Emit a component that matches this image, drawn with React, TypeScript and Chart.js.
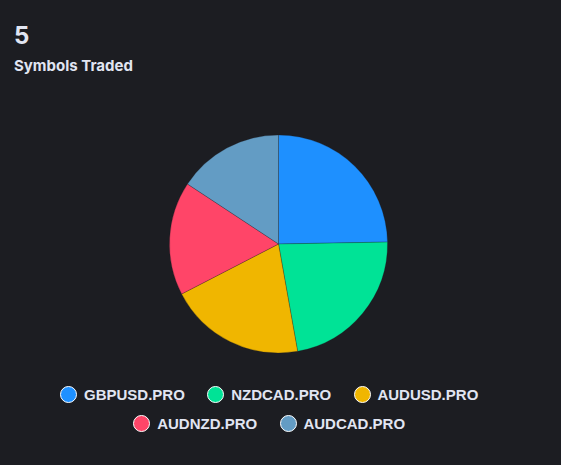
import { useEffect, useRef } from 'react'
import { Chart, ArcElement, Tooltip, PieController } from 'chart.js'

Chart.register(ArcElement, Tooltip, PieController)

// Symbols traded — pie by trade count, HTML legend underneath

const symbols = ['GBPUSD.PRO', 'NZDCAD.PRO', 'AUDUSD.PRO', 'AUDNZD.PRO', 'AUDCAD.PRO']
const tradeCounts = [22, 20, 18, 15, 14]
const sliceColors = ['#1e90ff', '#00e396', '#f0b600', '#ff4568', '#639cc4']

const BG = '#1c1d22'
const TEXT = '#e1e5f2'

export default function App() {
  const canvasRef = useRef<HTMLCanvasElement>(null)
  const chartRef = useRef<Chart | null>(null)

  useEffect(() => {
    document.body.style.margin = '0'
    document.body.style.background = BG
    if (!canvasRef.current) return
    if (chartRef.current) chartRef.current.destroy()

    chartRef.current = new Chart(canvasRef.current, {
      type: 'pie',
      data: {
        labels: symbols,
        datasets: [{
          data: tradeCounts,
          backgroundColor: sliceColors,
          borderWidth: 0.5,
          borderColor: 'rgba(28, 29, 34, 0.5)',
          hoverOffset: 0,
        }],
      },
      options: {
        responsive: true,
        maintainAspectRatio: false,
        animation: false,
        radius: 109,
        layout: { padding: 0 },
        plugins: {
          legend: { display: false },
          tooltip: {
            backgroundColor: '#2a2c33',
            titleColor: TEXT,
            bodyColor: TEXT,
          },
        },
      },
    })
    return () => { chartRef.current?.destroy() }
  }, [])

  return (
    <div
      style={{
        position: 'relative',
        width: 561,
        height: 465,
        background: BG,
        overflow: 'hidden',
        fontFamily: 'Inter, "Noto Sans", sans-serif',
        color: TEXT,
      }}
    >
      <div
        style={{
          position: 'absolute',
          left: 14,
          top: 24,
          fontSize: 24,
          lineHeight: '24px',
          fontWeight: 700,
        }}
      >
        {symbols.length}
      </div>
      <div
        style={{
          position: 'absolute',
          left: 14,
          top: 58,
          fontSize: 15,
          lineHeight: '15px',
          fontWeight: 700,
        }}
      >
        Symbols Traded
      </div>

      <div style={{ position: 'absolute', left: 0, top: 134, width: 557, height: 220 }}>
        <canvas ref={canvasRef} />
      </div>

      {/* Legend */}
      <div
        style={{
          position: 'absolute',
          left: 0,
          top: 385.5,
          width: 561,
          display: 'flex',
          flexWrap: 'wrap',
          justifyContent: 'center',
          rowGap: 12,
        }}
      >
        {symbols.map((s, i) => (
          <div
            key={s}
            style={{ display: 'flex', alignItems: 'center', height: 17, marginRight: 22.5 }}
          >
            <span
              style={{
                width: 17,
                height: 17,
                boxSizing: 'border-box',
                borderRadius: '50%',
                border: '1.5px solid #ffffff',
                background: sliceColors[i],
                display: 'inline-block',
                flexShrink: 0,
              }}
            />
            <span
              style={{
                marginLeft: 6.8,
                fontFamily: '"Liberation Sans", Arial, sans-serif',
                fontSize: 15,
                lineHeight: '17px',
                fontWeight: 700,
                color: TEXT,
                whiteSpace: 'nowrap',
              }}
            >
              {s}
            </span>
          </div>
        ))}
      </div>
    </div>
  )
}
